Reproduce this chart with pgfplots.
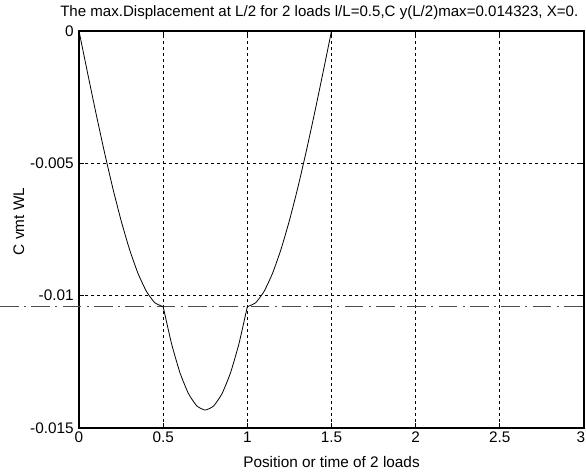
\documentclass[border=0pt]{standalone}
\usepackage{fontspec}
\setmainfont{Liberation Sans}
\usepackage{pgfplots}
\pgfplotsset{compat=1.18}
\begin{document}
\fontsize{11.5}{13}\selectfont
\begin{tikzpicture}
\begin{axis}[name=ax, scale only axis, width=378.75pt, height=297.75pt,
  xmin=0, xmax=3, ymin=-0.015, ymax=0, clip=false,
  xtick={0,0.5,1,1.5,2,2.5,3}, xticklabels={0,0.5,1,1.5,2,2.5,\hspace*{-4.6pt}3},
  ytick={-0.015,-0.01,-0.005,0}, yticklabels={-0.015,-0.01,-0.005,0},
  scaled y ticks=false, scaled x ticks=false,
  grid=major, major grid style={black, line width=0.55pt, dash pattern=on 2pt off 2.5pt},
  axis line style={black, line width=0.8pt},
  tick align=inside, tick style={black, line width=0.6pt}, major tick length=4pt,
  ticklabel style={font=\fontsize{11.5}{13}\selectfont},
  xticklabel style={yshift=1pt},
  label style={font=\fontsize{11.5}{13}\selectfont},
  xlabel={Position or time of 2 loads},
  ylabel={C vmt WL},
  xlabel style={at={(axis description cs:0.5,-0.086)}, anchor=center},
  ylabel style={at={(axis description cs:-0.119,0.52)}, anchor=center},
]
\addplot[black!70, line width=0.5pt, dash pattern=on 14pt off 4pt on 1.5pt off 4pt, forget plot]
  coordinates {(-0.47,-0.0104167) (3.02,-0.0104167)};
\addplot[black, line width=0.6pt, smooth, tension=0.3] coordinates {
(0,0) (0.05,-0.0015573) (0.1,-0.0030833) (0.15,-0.0045469) (0.2,-0.0059167)
(0.25,-0.0071615) (0.3,-0.00825) (0.35,-0.009151) (0.4,-0.0098333)
(0.45,-0.0102656) (0.5,-0.0104167)};
\addplot[black, line width=0.6pt, smooth, tension=0.3] coordinates {
(0.5,-0.0104167) (0.55,-0.0118229) (0.6,-0.0129167) (0.65,-0.0136979)
(0.7,-0.0141667) (0.75,-0.014323) (0.8,-0.0141667) (0.85,-0.0136979)
(0.9,-0.0129167) (0.95,-0.0118229) (1.0,-0.0104167)};
\addplot[black, line width=0.6pt, smooth, tension=0.3] coordinates {
(1.0,-0.0104167) (1.05,-0.0102656) (1.1,-0.0098333) (1.15,-0.009151)
(1.2,-0.00825) (1.25,-0.0071615) (1.3,-0.0059167) (1.35,-0.0045469)
(1.4,-0.0030833) (1.45,-0.0015573) (1.5,0)};
\addplot[black, line width=0.6pt] coordinates {(1.5,0) (3,0)};
\end{axis}
\node[anchor=west, inner sep=0pt, font=\fontsize{11.3}{14}\selectfont] at ([xshift=-14.25pt, yshift=13.5pt]ax.north west)
  {The max.Displacement at L/2 for 2 loads l/L=0.5,C y(L/2)max=0.014323, X=0.};
\pgfresetboundingbox
\path[use as bounding box] ([xshift=-59.25pt, yshift=-34.5pt]ax.south west) rectangle ([xshift=1.5pt, yshift=23.25pt]ax.north east);
\end{tikzpicture}
\end{document}
